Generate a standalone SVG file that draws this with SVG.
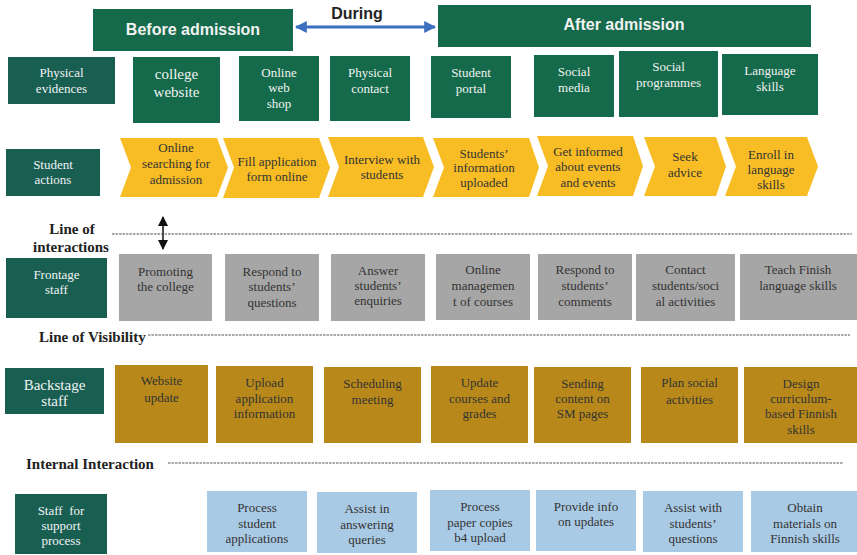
<svg xmlns="http://www.w3.org/2000/svg" width="857" height="555" viewBox="0 0 857 555">
<defs>
<style>
.hdr{fill:#146a4a}
.lab{fill:#185f52}
.ev{fill:#146a4a}
.ch{fill:#f8bd24}
.gr{fill:#a6a6a6}
.gd{fill:#b8891a}
.bl{fill:#a9cae5}
.t{font-family:"Liberation Serif","Times New Roman",serif;font-size:13px;text-anchor:middle}
.w{fill:#f2f2f2}
.d{fill:#333333}
.h{font-family:"Liberation Sans",Arial,sans-serif;font-weight:bold;font-size:16px;text-anchor:middle}
.lb{font-family:"Liberation Serif","Times New Roman",serif;font-weight:bold;font-size:15px;fill:#222}
.dash{stroke:#555;stroke-width:1;stroke-dasharray:2.5 1;fill:none}
</style>
<marker id="ab" viewBox="0 0 10 10" refX="9" refY="5" markerWidth="4" markerHeight="4" orient="auto-start-reverse"><path d="M0,0 L10,5 L0,10 z" fill="#3d6fc0"/></marker>
<marker id="ak" viewBox="0 0 10 10" refX="9" refY="5" markerWidth="7" markerHeight="7" orient="auto-start-reverse"><path d="M0,0 L10,5 L0,10 z" fill="#111"/></marker>
</defs>

<g id="headers">
<g id="before"><rect class="hdr" x="93" y="9" width="200" height="42"/><text class="h w" x="193" y="35">Before admission</text></g>
<g id="during"><text class="h" x="357" y="19" fill="#222">During</text></g>
<g id="after"><rect class="hdr" x="438" y="5" width="373" height="42"/><text class="h w" x="624" y="30">After admission</text></g>
</g>

<g id="connectors">
<line x1="296" y1="27" x2="435" y2="27" stroke="#3d6fc0" stroke-width="3" marker-start="url(#ab)" marker-end="url(#ab)"/>
<line x1="163" y1="217" x2="163" y2="249" stroke="#111" stroke-width="1.5" marker-start="url(#ak)" marker-end="url(#ak)"/>
<line class="dash" x1="112" y1="234" x2="852" y2="234"/>
<line class="dash" x1="148" y1="335" x2="850" y2="335"/>
<line class="dash" x1="168" y1="463" x2="843" y2="463"/>
</g>

<g id="lines-labels">
<text class="lb" x="72" y="234" text-anchor="middle">Line of</text>
<text class="lb" x="71" y="252" text-anchor="middle">interactions</text>
<text class="lb" x="39" y="342">Line of Visibility</text>
<text class="lb" x="26" y="469">Internal Interaction</text>
</g>

<!-- Physical evidences row -->
<g id="physical-evidences"><rect class="lab" x="8" y="57" width="107" height="47"/><text class="t w" x="61.5" y="76.5">Physical<tspan x="61.5" y="93">evidences</tspan></text></g>
<g id="college-website"><rect class="ev" x="133" y="57" width="87" height="66"/><text class="t w" x="176.5" y="79" style="font-size:15px">college<tspan x="176.5" y="97">website</tspan></text></g>
<g id="online-web-shop"><rect class="ev" x="239" y="56" width="80" height="65"/><text class="t w" x="279" y="76.5">Online<tspan x="279" y="92">web</tspan><tspan x="279" y="107.5">shop</tspan></text></g>
<g id="physical-contact"><rect class="ev" x="330" y="56" width="80" height="65"/><text class="t w" x="370" y="76.5">Physical<tspan x="370" y="92.5">contact</tspan></text></g>
<g id="student-portal"><rect class="ev" x="431" y="56" width="80" height="62"/><text class="t w" x="471" y="76.5">Student<tspan x="471" y="92.5">portal</tspan></text></g>
<g id="social-media"><rect class="ev" x="534" y="55" width="80" height="62"/><text class="t w" x="574" y="75.5">Social<tspan x="574" y="91.5">media</tspan></text></g>
<g id="social-programmes"><rect class="ev" x="619" y="51" width="99" height="66"/><text class="t w" x="668.5" y="70.5">Social<tspan x="668.5" y="86.5">programmes</tspan></text></g>
<g id="language-skills"><rect class="ev" x="722" y="54" width="96" height="61"/><text class="t w" x="770" y="74.5">Language<tspan x="770" y="90.5">skills</tspan></text></g>

<!-- Student actions row -->
<g id="student-actions"><rect class="lab" x="6" y="149" width="94" height="47"/><text class="t w" x="53" y="168.5">Student<tspan x="53" y="183.5">actions</tspan></text></g>
<g id="sa1"><polygon class="ch" points="120,138 217,138 228,167.5 217,197 120,197 131,167.5"/><text class="t d" x="176" y="151.5">Online<tspan x="176" y="167.5">searching for</tspan><tspan x="176" y="183.5">admission</tspan></text></g>
<g id="sa2"><polygon class="ch" points="223,138 319,138 330,167.5 319,198 223,198 234,167.5"/><text class="t d" x="277" y="165.5">Fill application<tspan x="277" y="180.5">form online</tspan></text></g>
<g id="sa3"><polygon class="ch" points="328,137 423,137 434,167 423,197 328,197 339,167"/><text class="t d" x="382" y="163.5">Interview with<tspan x="382" y="178.5">students</tspan></text></g>
<g id="sa4"><polygon class="ch" points="433,138 529,138 539,167.5 529,197 433,197 444,167.5"/><text class="t d" x="484" y="157.5">Students’<tspan x="484" y="172">information</tspan><tspan x="484" y="187">uploaded</tspan></text></g>
<g id="sa5"><polygon class="ch" points="537,136 633,136 643,166 633,196 537,196 548,166"/><text class="t d" x="588" y="155.5">Get informed<tspan x="588" y="170.5">about events</tspan><tspan x="588" y="186.5">and events</tspan></text></g>
<g id="sa6"><polygon class="ch" points="644,137 716,137 726,166.5 716,196 644,196 655,166.5"/><text class="t d" x="685" y="160.5">Seek<tspan x="685" y="176.5">advice</tspan></text></g>
<g id="sa7"><polygon class="ch" points="725,137 807,137 818,166.5 807,196 725,196 736,166.5"/><text class="t d" x="771" y="158.5">Enroll in<tspan x="771" y="174">language</tspan><tspan x="771" y="189">skills</tspan></text></g>

<!-- Frontage staff row -->
<g id="frontage-staff"><rect class="lab" x="6" y="258" width="101" height="60"/><text class="t w" x="56.5" y="278.5">Frontage<tspan x="56.5" y="293.5">staff</tspan></text></g>
<g id="fs1"><rect class="gr" x="119" y="254" width="93" height="67"/><text class="t d" x="165.5" y="275.5">Promoting<tspan x="165.5" y="290.5">the college</tspan></text></g>
<g id="fs2"><rect class="gr" x="225" y="254" width="94" height="67"/><text class="t d" x="272" y="275.5">Respond to<tspan x="272" y="290.5">students’</tspan><tspan x="272" y="306.5">questions</tspan></text></g>
<g id="fs3"><rect class="gr" x="331" y="254" width="94" height="67"/><text class="t d" x="378" y="274.5">Answer<tspan x="378" y="289.5">students’</tspan><tspan x="378" y="304.5">enquiries</tspan></text></g>
<g id="fs4"><rect class="gr" x="436" y="254" width="94" height="66"/><text class="t d" x="483" y="273.5">Online<tspan x="483" y="289.5">managemen</tspan><tspan x="483" y="305.5">t of courses</tspan></text></g>
<g id="fs5"><rect class="gr" x="538" y="254" width="94" height="66"/><text class="t d" x="585" y="273.5">Respond to<tspan x="585" y="289.5">students’</tspan><tspan x="585" y="305.5">comments</tspan></text></g>
<g id="fs6"><rect class="gr" x="636" y="254" width="99" height="67"/><text class="t d" x="685.5" y="273.5">Contact<tspan x="685.5" y="289.5">students/soci</tspan><tspan x="685.5" y="305.5">al activities</tspan></text></g>
<g id="fs7"><rect class="gr" x="740" y="254" width="117" height="66"/><text class="t d" x="798" y="273.5">Teach Finish<tspan x="798" y="289.5">language skills</tspan></text></g>

<!-- Backstage staff row -->
<g id="backstage-staff"><rect class="lab" x="5" y="368" width="99" height="46"/><text class="t w" x="54.5" y="390" style="font-size:15px">Backstage<tspan x="54.5" y="406">staff</tspan></text></g>
<g id="bs1"><rect class="gd" x="115" y="365" width="93" height="78"/><text class="t d" x="161.5" y="384.5">Website<tspan x="161.5" y="401.5">update</tspan></text></g>
<g id="bs2"><rect class="gd" x="216" y="366" width="97" height="77"/><text class="t d" x="264.5" y="386.5">Upload<tspan x="264.5" y="402.5">application</tspan><tspan x="264.5" y="417.5">information</tspan></text></g>
<g id="bs3"><rect class="gd" x="324" y="367" width="97" height="76"/><text class="t d" x="372.5" y="387.5">Scheduling<tspan x="372.5" y="403.5">meeting</tspan></text></g>
<g id="bs4"><rect class="gd" x="431" y="366" width="97" height="77"/><text class="t d" x="479.5" y="386.5">Update<tspan x="479.5" y="402.5">courses and</tspan><tspan x="479.5" y="417.5">grades</tspan></text></g>
<g id="bs5"><rect class="gd" x="534" y="367" width="97" height="76"/><text class="t d" x="582.5" y="387.5">Sending<tspan x="582.5" y="402.5">content on</tspan><tspan x="582.5" y="417.5">SM pages</tspan></text></g>
<g id="bs6"><rect class="gd" x="641" y="367" width="97" height="76"/><text class="t d" x="689.5" y="386.5">Plan social<tspan x="689.5" y="403.5">activities</tspan></text></g>
<g id="bs7"><rect class="gd" x="744" y="367" width="113" height="76"/><text class="t d" x="801" y="387.5">Design<tspan x="801" y="402.5">curriculum-</tspan><tspan x="801" y="418">based Finnish</tspan><tspan x="801" y="433.5">skills</tspan></text></g>

<!-- Support staff row -->
<g id="support-staff"><rect class="lab" x="15" y="494" width="92" height="60"/><text class="t w" x="61" y="514.5" style="white-space:pre">Staff  for<tspan x="61" y="529.5">support</tspan><tspan x="61" y="544.5">process</tspan></text></g>
<g id="sp1"><rect class="bl" x="207" y="491" width="100" height="61"/><text class="t d" x="257" y="511.5">Process<tspan x="257" y="527.5">student</tspan><tspan x="257" y="542.5">applications</tspan></text></g>
<g id="sp2"><rect class="bl" x="317" y="492" width="100" height="61"/><text class="t d" x="367" y="512.5">Assist in<tspan x="367" y="528.5">answering</tspan><tspan x="367" y="543.5">queries</tspan></text></g>
<g id="sp3"><rect class="bl" x="430" y="490" width="100" height="61"/><text class="t d" x="480" y="510.5">Process<tspan x="480" y="526.5">paper copies</tspan><tspan x="480" y="541.5">b4 upload</tspan></text></g>
<g id="sp4"><rect class="bl" x="536" y="490" width="100" height="61"/><text class="t d" x="586" y="510.5">Provide info<tspan x="586" y="525.5">on updates</tspan></text></g>
<g id="sp5"><rect class="bl" x="643" y="491" width="100" height="61"/><text class="t d" x="693" y="511.5">Assist with<tspan x="693" y="527.5">students’</tspan><tspan x="693" y="542.5">questions</tspan></text></g>
<g id="sp6"><rect class="bl" x="751" y="491" width="106" height="61"/><text class="t d" x="805" y="511.5">Obtain<tspan x="805" y="527.5">materials on</tspan><tspan x="805" y="542.5">Finnish skills</tspan></text></g>
</svg>
